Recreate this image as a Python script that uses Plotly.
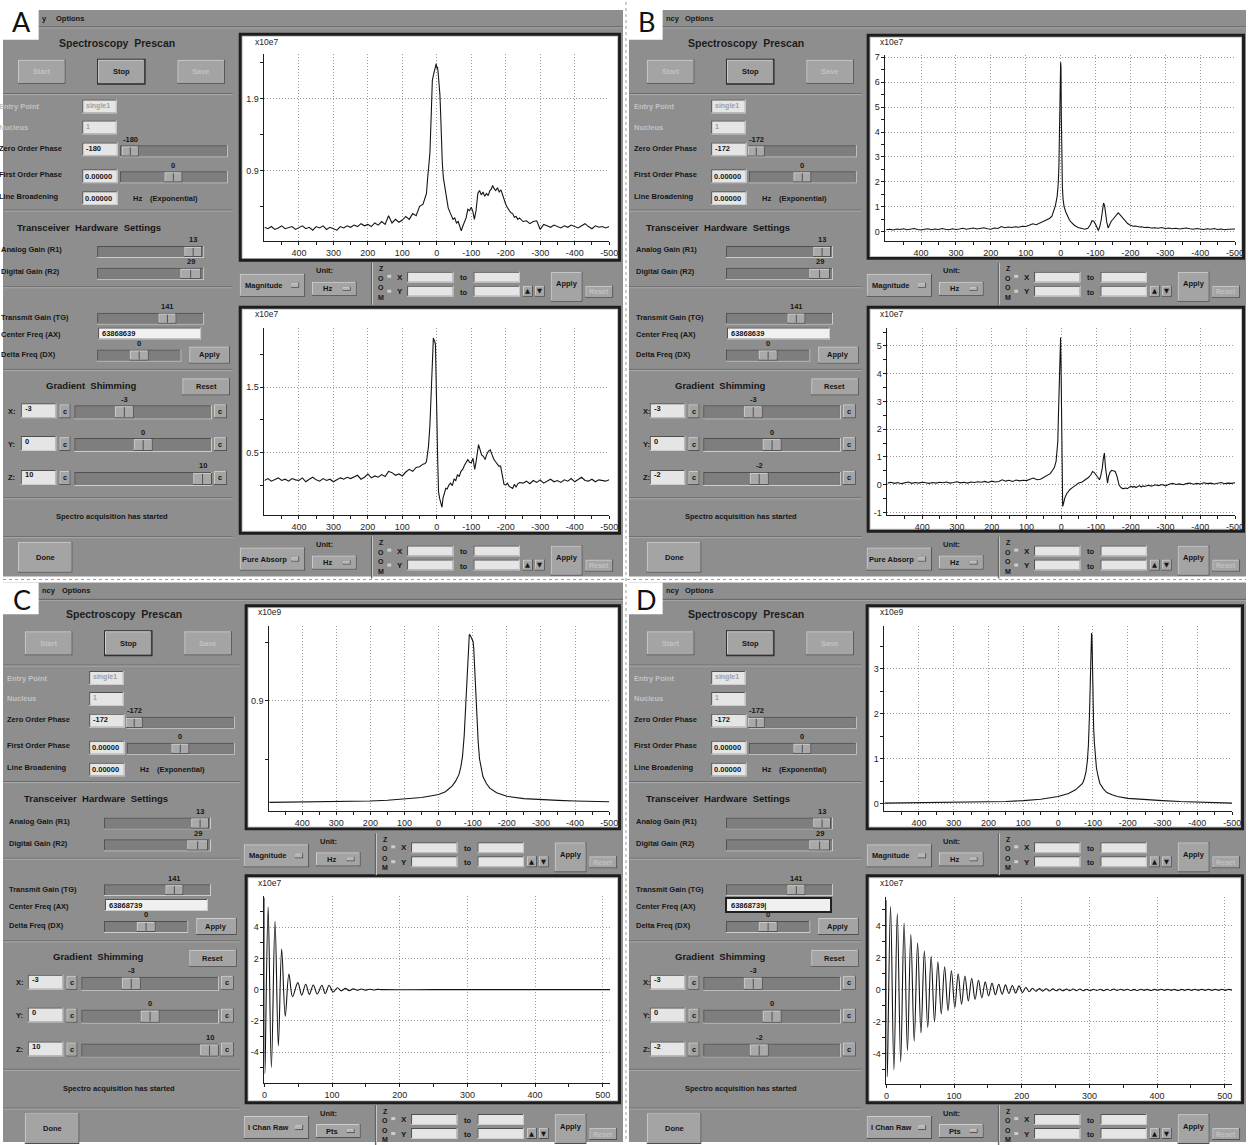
import plotly.graph_objects as go

W, H = 1255, 1145

# ============================ DATA ============================
# frequency sample grid (Hz) for the flat wings of the spectra
SPEC_LEFT_X = list(range(500, 30, -10))      # 500 ... 40
SPEC_RIGHT_X = list(range(-250, -510, -10))  # -250 ... -500

# ---- Panel A, Magnitude (x10e7)
a_mag_left = [0.11, 0.09, 0.12, 0.08, 0.10, 0.13, 0.09, 0.11, 0.12, 0.08,
              0.10, 0.13, 0.09, 0.11, 0.07, 0.12, 0.10, 0.13, 0.08, 0.11,
              0.09, 0.07, 0.12, 0.10, 0.13, 0.11, 0.14, 0.12, 0.16, 0.13,
              0.15, 0.12, 0.17, 0.14, 0.19, 0.15, 0.27, 0.17, 0.22, 0.18,
              0.21, 0.26, 0.22, 0.30, 0.27, 0.40, 0.43]
a_mag_peak_x = [34, 30, 27, 24, 20, 16, 13, 10, 6, 2,
                0, -2, -4, -7, -9, -11, -13, -16, -19, -23,
                -28, -33, -38, -43, -47, -52, -57, -62, -66, -71,
                -75, -80, -85, -90, -95, -100, -105, -109, -114, -119,
                -124, -129, -134, -139, -144, -149, -154, -158, -162, -166,
                -171, -176, -181, -186, -191, -196, -200, -205, -210, -215,
                -220, -225, -230, -235, -240]
a_mag_peak_y = [0.52, 0.58, 0.77, 0.95, 1.14, 1.70, 2.15, 2.22, 2.30, 2.38,
                2.32, 2.34, 2.25, 2.10, 1.95, 1.70, 1.37, 1.00, 0.80, 0.66,
                0.50, 0.38, 0.32, 0.26, 0.22, 0.24, 0.17, 0.19, 0.12, 0.06,
                0.12, 0.17, 0.24, 0.36, 0.34, 0.39, 0.32, 0.22, 0.35, 0.58,
                0.62, 0.56, 0.60, 0.54, 0.58, 0.55, 0.62, 0.64, 0.69, 0.65,
                0.62, 0.66, 0.60, 0.63, 0.55, 0.48, 0.43, 0.38, 0.35, 0.31,
                0.30, 0.25, 0.26, 0.22, 0.24]
a_mag_right = [0.19, 0.20, 0.16, 0.19, 0.20, 0.08, 0.15, 0.13, 0.11, 0.14,
               0.12, 0.10, 0.13, 0.11, 0.14, 0.12, 0.10, 0.13, 0.16, 0.12,
               0.09, 0.13, 0.11, 0.12, 0.10, 0.12]

# ---- Panel A, Pure Absorption (x10e7)
a_abs_left = [0.07, 0.10, 0.06, 0.09, 0.11, 0.07, 0.09, 0.06, 0.10, 0.08,
              0.07, 0.11, 0.05, 0.09, 0.12, 0.08, 0.06, 0.10, 0.07, 0.09,
              0.05, 0.08, 0.11, 0.09, 0.12, 0.10, 0.13, 0.15, 0.09, 0.12,
              0.17, 0.11, 0.14, 0.12, 0.16, 0.13, 0.21, 0.19, 0.15, 0.17,
              0.14, 0.20, 0.24, 0.21, 0.27, 0.28, 0.32]
a_abs_peak_x = [34, 30, 27, 24, 20, 17, 14, 12, 10, 8,
                6, 4, 2, 0, -2, -5, -8, -12, -15, -18,
                -22, -26, -30, -35, -40, -45, -50, -55, -60, -65,
                -70, -75, -80, -85, -90, -95, -100, -105, -110, -114,
                -118, -121, -125, -130, -135, -140, -145, -150, -155, -160,
                -165, -170, -175, -180, -185, -188, -191, -195, -200, -205,
                -210, -215, -220, -225, -230, -235, -240]
a_abs_peak_y = [0.33, 0.36, 0.46, 0.60, 0.92, 1.40, 1.84, 2.10, 2.25, 2.22,
                2.20, 2.15, 1.80, 1.08, 0.50, -0.10, -0.20, -0.30, -0.34, -0.20,
                -0.10, -0.05, -0.06, 0.00, 0.03, -0.01, 0.09, 0.07, 0.16, 0.13,
                0.21, 0.24, 0.30, 0.34, 0.39, 0.35, 0.34, 0.41, 0.24, 0.36,
                0.50, 0.62, 0.55, 0.46, 0.44, 0.39, 0.47, 0.52, 0.54, 0.46,
                0.40, 0.36, 0.33, 0.29, 0.29, 0.20, 0.07, 0.01, 0.00, 0.03,
                -0.02, -0.04, -0.05, 0.01, -0.03, 0.02, 0.04]
a_abs_right = [0.03, 0.06, 0.02, 0.07, 0.04, 0.08, 0.03, 0.06, 0.09, 0.05,
               0.07, 0.04, 0.08, 0.06, 0.10, 0.05, 0.09, 0.12, 0.07, 0.06,
               0.09, 0.05, 0.08, 0.07, 0.06, 0.08]

# ---- Panel B, Magnitude (x10e7)
b_mag_left = [0.08, 0.10, 0.07, 0.11, 0.09, 0.12, 0.08, 0.10, 0.13, 0.09,
              0.07, 0.10, 0.12, 0.08, 0.11, 0.09, 0.13, 0.10, 0.08, 0.12,
              0.09, 0.11, 0.14, 0.10, 0.12, 0.15, 0.11, 0.13, 0.16, 0.12,
              0.10, 0.15, 0.13, 0.21, 0.16, 0.19, 0.17, 0.20, 0.18, 0.22,
              0.21, 0.26, 0.32, 0.28, 0.35, 0.42, 0.48]
b_mag_peak_x = [32, 25, 20, 15, 10, 7, 5, 3, 2, 1,
                0, -1, -2, -3, -5, -7, -10, -15, -20, -25,
                -30, -40, -50, -60, -70, -78, -85, -90, -95, -100,
                -104, -108, -112, -116, -120, -123, -126, -129, -132, -136,
                -140, -145, -150, -155, -160, -165, -168, -172, -177, -182,
                -187, -192, -197, -202, -208, -214, -220, -226, -232, -240]
b_mag_peak_y = [0.53, 0.62, 0.80, 1.05, 1.42, 1.90, 2.60, 3.80, 4.90, 5.80,
                6.80, 6.60, 4.60, 3.00, 1.80, 1.30, 1.00, 0.78, 0.62, 0.48,
                0.38, 0.25, 0.17, 0.12, 0.10, 0.14, 0.28, 0.44, 0.42, 0.30,
                0.15, 0.05, 0.20, 0.45, 0.85, 1.15, 1.05, 0.70, 0.40, 0.15,
                0.30, 0.42, 0.50, 0.58, 0.66, 0.76, 0.72, 0.65, 0.56, 0.50,
                0.40, 0.33, 0.28, 0.25, 0.22, 0.23, 0.20, 0.19, 0.20, 0.17]
b_mag_right = [0.18, 0.15, 0.16, 0.14, 0.17, 0.13, 0.15, 0.12, 0.14, 0.11,
               0.13, 0.15, 0.12, 0.10, 0.13, 0.11, 0.09, 0.12, 0.10, 0.13,
               0.09, 0.11, 0.08, 0.10, 0.09, 0.11]

# ---- Panel B, Pure Absorption (x10e7)
b_abs_left = [0.06, 0.09, 0.05, 0.08, 0.04, 0.07, 0.10, 0.05, 0.08, 0.06,
              0.09, 0.07, 0.05, 0.08, 0.06, 0.09, 0.07, 0.10, 0.06, 0.08,
              0.11, 0.07, 0.09, 0.06, 0.10, 0.08, 0.11, 0.09, 0.12, 0.08,
              0.13, 0.10, 0.12, 0.18, 0.13, 0.16, 0.12, 0.17, 0.14, 0.16,
              0.15, 0.20, 0.24, 0.18, 0.20, 0.27, 0.35]
b_abs_peak_x = [32, 25, 20, 15, 12, 10, 8, 7, 5, 4,
                3, 2, 1, 0, -1, -2, -4, -6, -10, -15,
                -20, -25, -30, -40, -50, -60, -70, -78, -85, -90,
                -95, -100, -105, -110, -114, -118, -121, -124, -127, -130,
                -133, -136, -140, -145, -150, -155, -160, -163, -166, -170,
                -175, -180, -185, -190, -195, -200, -205, -210, -215, -220,
                -225, -230, -235, -240]
b_abs_peak_y = [0.40, 0.52, 0.62, 0.84, 1.20, 1.56, 2.60, 3.10, 3.40, 4.30,
                4.90, 5.30, 4.60, 3.10, 1.20, 0.00, -0.78, -0.70, -0.48, -0.33,
                -0.24, -0.17, -0.12, -0.03, 0.06, 0.10, 0.18, 0.26, 0.36, 0.48,
                0.44, 0.36, 0.25, 0.18, 0.35, 0.60, 0.95, 1.14, 0.65, 0.20,
                0.06, 0.30, 0.45, 0.52, 0.50, 0.48, 0.32, 0.12, 0.00, -0.08,
                -0.13, -0.14, -0.12, -0.14, -0.10, -0.05, -0.09, -0.06, -0.10, -0.07,
                -0.03, -0.08, -0.04, -0.06]
b_abs_right = [-0.02, -0.05, 0.00, -0.03, 0.01, -0.04, 0.02, 0.05, 0.01, 0.03,
               0.00, 0.04, 0.06, 0.02, 0.05, 0.03, 0.07, 0.04, 0.06, 0.03,
               0.05, 0.08, 0.04, 0.06, 0.05, 0.07]

# ---- Panel C, Magnitude (x10e9)
c_mag_x = [500, 450, 400, 350, 300, 250, 200, 150, 100, 50,
           20, 0, -20, -40, -50, -60, -65, -70, -75, -80,
           -83, -86, -88, -90, -93, -96, -99, -101, -103, -105,
           -107, -109, -111, -113, -116, -120, -125, -130, -140, -150,
           -170, -200, -250, -300, -350, -400, -450, -500]
c_mag_y = [0.028, 0.029, 0.030, 0.031, 0.033, 0.036, 0.040, 0.046, 0.055, 0.070,
           0.085, 0.096, 0.12, 0.17, 0.21, 0.27, 0.33, 0.42, 0.60, 0.88,
           1.12, 1.34, 1.44, 1.47, 1.46, 1.44, 1.42, 1.41, 1.35, 1.22,
           1.14, 1.08, 0.95, 0.77, 0.55, 0.40, 0.31, 0.25, 0.19, 0.15,
           0.11, 0.08, 0.06, 0.05, 0.045, 0.040, 0.036, 0.033]

# ---- Panel D, Magnitude (x10e9)
d_mag_x = [500, 450, 400, 350, 300, 250, 200, 150, 100, 50,
           0, -30, -50, -60, -70, -75, -80, -84, -87, -90,
           -92, -94, -95, -96, -97, -98, -99, -100, -102, -104,
           -107, -110, -115, -120, -130, -140, -155, -170, -200, -250,
           -300, -350, -400, -450, -500]
d_mag_y = [0.015, 0.018, 0.020, 0.022, 0.025, 0.030, 0.040, 0.050, 0.070, 0.10,
           0.16, 0.23, 0.31, 0.37, 0.45, 0.55, 0.71, 0.95, 1.30, 1.96,
           2.60, 3.20, 3.60, 3.79, 3.75, 3.40, 2.80, 2.33, 1.70, 1.37,
           1.00, 0.80, 0.60, 0.45, 0.33, 0.25, 0.20, 0.16, 0.12, 0.09,
           0.07, 0.05, 0.035, 0.025, 0.015]

# ---- Panel C, I channel raw FID (x10e7) : successive extrema
c_fid_x = [0, 0.5, 5.4, 10.2, 15.6, 20.5, 25.4, 30.7, 36.1, 41.5,
           49.3, 55.1, 61.0, 66.3, 72.2, 78.0, 84.9, 89.8, 95.6, 101.5,
           107.8, 113.7, 119.5, 125.4, 131.2, 137.0, 143.0, 149.0, 155.0, 161.0,
           167.0, 175.0, 250.0, 350.0, 450.0, 511.0]
c_fid_y = [5.9, -5.4, 5.3, -5.0, 4.4, -3.6, 2.6, -1.7, 1.0, -0.45,
           0.45, -0.35, 0.35, -0.30, 0.30, -0.28, 0.28, -0.25, 0.28, -0.15,
           0.12, -0.08, 0.08, -0.06, 0.05, -0.04, 0.04, -0.03, 0.03, -0.02,
           0.02, 0.0, 0.0, 0.0, 0.0, 0.0]

# ---- Panel D, I channel raw FID (x10e7) : successive extrema (pts 0, 1, 6, 11, ... 511)
d_fid_y = [5.60, -5.44, 5.20, -5.00, 4.77, -4.50, 4.17, -3.80, 3.48, -3.20,
           2.94, -2.70, 2.44, -2.35, 2.10, -2.00, 1.75, -1.50, 1.44, -1.30,
           1.19, -1.10, 1.00, -0.90, 0.87, -0.70, 0.73, -0.60, 0.60, -0.50,
           0.50, -0.38, 0.42, -0.30, 0.35, -0.27, 0.31, -0.23, 0.27, -0.20,
           0.25, -0.17, 0.15, -0.12, 0.10, -0.09, 0.08, -0.08, 0.07, -0.07,
           0.06, -0.06, 0.05, -0.06, 0.05, -0.05, 0.05, -0.05, 0.05, -0.05,
           0.04, -0.05, 0.04, -0.04, 0.04, -0.05, 0.04, -0.04, 0.05, -0.04,
           0.04, -0.03, 0.04, -0.04, 0.03, -0.04, 0.04, -0.03, 0.03, -0.04,
           0.03, -0.03, 0.04, -0.03, 0.03, -0.03, 0.03, -0.04, 0.03, -0.03,
           0.03, -0.03, 0.03, -0.03, 0.03, -0.03, 0.03, -0.03, 0.03, -0.03,
           0.03, -0.03, 0.03, -0.03]
d_fid_x = [0, 1] + [6 + 5 * k for k in range(len(d_fid_y) - 2)]

HZ_TICKS = [400, 300, 200, 100, 0, -100, -200, -300, -400, -500]
HZ_MINOR = [450, 350, 250, 150, 50, -50, -150, -250, -350, -450]
PTS_TICKS = [0, 100, 200, 300, 400, 500]
PTS_MINOR = [50, 150, 250, 350, 450]

# ============================ STYLE / HELPERS ============================
BG = '#8e8e8e'
BTN = '#a4a4a4'
HI = '#cdcdcd'
LO = '#505050'
FIELD = '#e5e5e5'
TROUGH = '#7e7e7e'
TXT = '#161616'
DIM = '#c2c2c2'
GF = 'Liberation Sans'

shapes, annots = [], []


def fx(x):
    return x / W


def fy(y):
    return 1 - y / H


def rect(x0, y0, x1, y1, fill):
    shapes.append(dict(type='rect', xref='paper', yref='paper', x0=fx(x0), x1=fx(x1),
                       y0=fy(y1), y1=fy(y0), fillcolor=fill, line=dict(width=0), layer='below'))


def line(x0, y0, x1, y1, color, lw=1, dash='solid'):
    shapes.append(dict(type='line', xref='paper', yref='paper', x0=fx(x0), x1=fx(x1),
                       y0=fy(y0), y1=fy(y1), line=dict(color=color, width=lw, dash=dash), layer='below'))


def text(x, y, s, size=8, color=TXT, anchor='left', family=GF, bold=True):
    if bold:
        s = '<b>' + s + '</b>'
    annots.append(dict(xref='paper', yref='paper', x=fx(x), y=fy(y), text=s, showarrow=False,
                       xanchor=anchor, yanchor='middle', borderpad=0,
                       font=dict(size=size, color=color, family=family)))


def raised(x0, y0, x1, y1, fill=BTN):
    rect(x0, y0, x1, y1, LO)
    rect(x0, y0, x1 - 1, y1 - 1, HI)
    rect(x0 + 1, y0 + 1, x1 - 1, y1 - 1, fill)


def sunken(x0, y0, x1, y1, fill=FIELD):
    rect(x0, y0, x1, y1, HI)
    rect(x0, y0, x1 - 1, y1 - 1, LO)
    rect(x0 + 1, y0 + 1, x1 - 1, y1 - 1, fill)


def slider(x0, y0, x1, y1, t0, t1, label):
    sunken(x0, y0, x1, y1, TROUGH)
    raised(t0, y0 + 1, t1, y1 - 1, '#a9a9a9')
    line((t0 + t1) / 2, y0 + 2, (t0 + t1) / 2, y1 - 2, LO)
    text((t0 + t1) / 2, y0 - 6, label, 7.5, TXT, 'center')


def sep(x0, x1, y):
    line(x0, y, x1, y, '#6a6a6a')
    line(x0, y + 1, x1, y + 1, '#ababab')


def left_panel(ox, oy, px0, lx, zop, zop_x, zval, z_x, freq, focused):
    X = lambda v: ox + v
    Y = lambda v: oy + v
    text(X(115), Y(41), 'Spectroscopy  Prescan', 10.5, '#1c1c1c', 'center')
    raised(X(15), Y(58), X(63), Y(82)); text(X(39), Y(70), 'Start', 7.5, DIM, 'center')
    rect(X(95), Y(57), X(144), Y(83), '#2a2a2a'); raised(X(96), Y(58), X(143), Y(82))
    text(X(119.5), Y(70), 'Stop', 7.5, TXT, 'center')
    raised(X(176), Y(58), X(224), Y(82)); text(X(200), Y(70), 'Save', 7.5, DIM, 'center')
    sep(px0, X(232), Y(92))
    text(lx, Y(105), 'Entry Point', 7.5, DIM)
    sunken(X(80), Y(98), X(115), Y(112)); text(X(83), Y(104), 'single1', 7, '#a0a0a0')
    text(lx, Y(126), 'Nucleus', 7.5, DIM)
    sunken(X(80), Y(119), X(115), Y(133)); text(X(83), Y(125), '1', 7, '#a0a0a0')
    text(lx, Y(147), 'Zero Order Phase', 7.5)
    sunken(X(80), Y(141), X(116), Y(155)); text(X(83), Y(147), zop, 7.5)
    slider(X(118), Y(144), X(227), Y(156), X(zop_x), X(zop_x + 17), zop)
    text(lx, Y(173), 'First Order Phase', 7.5)
    sunken(X(80), Y(168), X(116), Y(182)); text(X(82), Y(175), '0.00000', 7.5)
    slider(X(118), Y(170), X(227), Y(182), X(163), X(181), '0')
    text(lx, Y(195), 'Line Broadening', 7.5)
    sunken(X(80), Y(190), X(116), Y(204)); text(X(82), Y(197), '0.00000', 7.5)
    text(X(130), Y(197), 'Hz', 7.5); text(X(147), Y(197), '(Exponential)', 7.5)
    sep(px0, X(232), Y(209))
    text(X(87), Y(226), 'Transceiver  Hardware  Settings', 9.5, TXT, 'center')
    text(lx + 2, Y(249), 'Analog Gain (R1)', 7.5)
    slider(X(95), Y(245), X(203), Y(257), X(183), X(201), '13')
    text(lx + 2, Y(271), 'Digital Gain (R2)', 7.5)
    slider(X(95), Y(267), X(203), Y(279), X(179), X(200), '29')
    sep(px0, X(232), Y(286))
    text(lx + 2, Y(317), 'Transmit Gain (TG)', 7.5)
    slider(X(95), Y(312), X(203), Y(324), X(157), X(175), '141')
    text(lx + 2, Y(334), 'Center Freq (AX)', 7.5)
    if focused:
        rect(X(94), Y(325), X(202), Y(341), '#202020')
        rect(X(96), Y(327), X(200), Y(339), '#f0f0f0')
        text(X(99), Y(333), freq + '|', 7.5)
    else:
        sunken(X(96), Y(327), X(200), Y(339), '#f0f0f0')
        text(X(99), Y(333), freq, 7.5)
    text(lx + 2, Y(354), 'Delta Freq (DX)', 7.5)
    slider(X(95), Y(349), X(180), Y(361), X(128), X(147), '0')
    raised(X(188), Y(346), X(229), Y(363)); text(X(208.5), Y(354.5), 'Apply', 7.5, TXT, 'center')
    sep(px0, X(232), Y(369))
    text(X(89), Y(385), 'Gradient  Shimming', 9.5, TXT, 'center')
    raised(X(181), Y(378), X(229), Y(395)); text(X(205), Y(386.5), 'Reset', 7.5, TXT, 'center')
    rows = [('X:', 411, '-3', 113, '-3'), ('Y:', 444, '0', 132, '0'), ('Z:', 478, zval, z_x, zval)]
    for lab, yc, val, tx, tl in rows:
        text(lx + 9, Y(yc), lab, 7.5)
        sunken(X(18), Y(yc - 8), X(54), Y(yc + 7)); text(X(21), Y(yc - 3), val, 7.5)
        raised(X(57), Y(yc - 7), X(68), Y(yc + 7)); text(X(62.5), Y(yc), 'c', 7.5, TXT, 'center')
        slider(X(72), Y(yc - 6), X(211), Y(yc + 8), X(tx), X(tx + 19), tl)
        raised(X(213), Y(yc - 7), X(226), Y(yc + 7)); text(X(219.5), Y(yc), 'c', 7.5, TXT, 'center')
    sep(px0, X(232), Y(498))
    text(X(110), Y(517), 'Spectro acquisition has started', 7.5, TXT, 'center')
    sep(px0, X(232), Y(537))
    raised(X(15), Y(542), X(70), Y(573)); text(X(42.5), Y(557.5), 'Done', 7.5, TXT, 'center')


def toolbar(ox, oy, mode, unit):
    raised(ox + 4, oy + 11, ox + 70, oy + 34)
    text(ox + 29, oy + 22.5, mode, 7.5, TXT, 'center')
    raised(ox + 56, oy + 20, ox + 64, oy + 25, '#b4b4b4')
    text(ox + 90, oy + 8, 'Unit:', 7.5, TXT, 'center')
    raised(ox + 77, oy + 19, ox + 122, oy + 33)
    text(ox + 93, oy + 26, unit, 7.5, TXT, 'center')
    raised(ox + 108, oy + 24, ox + 116, oy + 28, '#b4b4b4')
    line(ox + 137, oy, ox + 137, oy + 42, LO)
    line(ox + 138, oy, ox + 138, oy + 42, HI)
    for k, ch in enumerate('ZOOM'):
        text(ox + 147, oy + 6 + k * 9.5, ch, 7, TXT, 'center')
    rect(ox + 153, oy + 12, ox + 157, oy + 15, HI)
    rect(ox + 153, oy + 27, ox + 157, oy + 30, HI)
    text(ox + 166, oy + 14.5, 'X', 8, TXT, 'center')
    text(ox + 166, oy + 29, 'Y', 8, TXT, 'center')
    sunken(ox + 173, oy + 9, ox + 220, oy + 20)
    sunken(ox + 240, oy + 9, ox + 287, oy + 20)
    sunken(ox + 173, oy + 23, ox + 220, oy + 34)
    sunken(ox + 240, oy + 23, ox + 287, oy + 34)
    text(ox + 230, oy + 15, 'to', 7.5, TXT, 'center')
    text(ox + 230, oy + 29.5, 'to', 7.5, TXT, 'center')
    raised(ox + 290, oy + 23, ox + 300, oy + 34)
    text(ox + 295, oy + 28.5, '▲', 6.5, TXT, 'center', 'DejaVu Sans', bold=False)
    raised(ox + 302, oy + 23, ox + 312, oy + 34)
    text(ox + 307, oy + 28.5, '▼', 6.5, TXT, 'center', 'DejaVu Sans', bold=False)
    raised(ox + 318, oy + 9, ox + 350, oy + 39)
    text(ox + 334, oy + 21, 'Apply', 7.5, TXT, 'center')
    raised(ox + 353, oy + 23, ox + 381, oy + 35)
    text(ox + 367, oy + 29, 'Reset', 7, DIM, 'center')


def frame(x0, y0, x1, y1):
    rect(x0, y0, x1, y1, '#1d1d1d')
    rect(x0 + 3, y0 + 3, x1 - 3, y1 - 3, '#c4c4c4')
    rect(x0 + 4, y0 + 4, x1 - 4, y1 - 4, 'white')


# ============================ LAYOUT BACKGROUND ============================
PANELS = [
    dict(box=(0, 8, 626, 577), menu=(8, 25), letter='A', lbox=(0, 0, 36, 38),
         off=(0, 0), lx=-5, zop='-180', zop_x=120, z='10', z_x=192, freq='63868639', focus=False,
         menu_txt=[(38, 'y'), (53, 'Options')]),
    dict(box=(632, 8, 1255, 577), menu=(8, 25), letter='B', lbox=(632, 0, 666, 38),
         off=(635, 0), lx=636, zop='-172', zop_x=117, z='-2', z_x=119, freq='63868639', focus=False,
         menu_txt=[(668, 'ncy'), (688, 'Options')]),
    dict(box=(0, 583, 626, 1145), menu=(583, 600), letter='C', lbox=(0, 583, 36, 615),
         off=(7, 574), lx=3, zop='-172', zop_x=117, z='10', z_x=192, freq='63868739', focus=False,
         menu_txt=[(38, 'ncy'), (59, 'Options')]),
    dict(box=(632, 583, 1255, 1145), menu=(583, 600), letter='D', lbox=(632, 583, 666, 615),
         off=(635, 574), lx=636, zop='-172', zop_x=117, z='-2', z_x=119, freq='63868739', focus=True,
         menu_txt=[(668, 'ncy'), (688, 'Options')]),
]

for p in PANELS:
    x0, y0, x1, y1 = p['box']
    rect(x0, y0, x1, y1, BG)
    m0, m1 = p['menu']
    line(x0, m1, x1, m1, '#5c5c5c')
    line(x0, m1 + 1, x1, m1 + 1, '#a8a8a8')
    for tx, s in p['menu_txt']:
        text(tx, (m0 + m1) / 2, s, 7.5)
    ox, oy = p['off']
    left_panel(ox, oy, x0, p['lx'], p['zop'], p['zop_x'], p['z'], p['z_x'], p['freq'], p['focus'])

# separators between the four screenshots
line(629, 0, 629, H, '#9a9a9a', 1, 'dot')
line(0, 580, W, 580, '#9a9a9a', 1, 'dot')

# plot frames
FRAMES = [(238, 31, 624, 261), (238, 305, 624, 535), (872, 32, 1254, 259), (872, 305, 1254, 533),
          (244, 605, 624, 832), (244, 876, 624, 1107), (871, 605, 1253, 832), (871, 876, 1253, 1107)]
for f in FRAMES:
    frame(*f)

TOOLBARS = [(235, 262, 'Magnitude', 'Hz'), (235, 537, 'Pure Absorp', 'Hz'),
            (868, 262, 'Magnitude', 'Hz'), (868, 537, 'Pure Absorp', 'Hz'),
            (239, 835, 'Magnitude', 'Hz'), (239, 1108, 'I Chan Raw', 'Pts'),
            (868, 835, 'Magnitude', 'Hz'), (868, 1108, 'I Chan Raw', 'Pts')]
for t in TOOLBARS:
    toolbar(*t)

# letter boxes
for p in PANELS:
    lb = p['lbox']
    rect(*lb, 'white')
    text((lb[0] + lb[2]) / 2 + 1, (lb[1] + lb[3]) / 2 + 1, p['letter'], 27, '#111111', 'center', 'Lato', bold=False)

# ============================ PLOTS ============================
def join(left, px_, py_, right):
    return SPEC_LEFT_X + px_ + SPEC_RIGHT_X, left + py_ + right


SERIES = [
    join(a_mag_left, a_mag_peak_x, a_mag_peak_y, a_mag_right),
    join(a_abs_left, a_abs_peak_x, a_abs_peak_y, a_abs_right),
    join(b_mag_left, b_mag_peak_x, b_mag_peak_y, b_mag_right),
    join(b_abs_left, b_abs_peak_x, b_abs_peak_y, b_abs_right),
    (c_mag_x, c_mag_y),
    (c_fid_x, c_fid_y),
    (d_mag_x, d_mag_y),
    (d_fid_x, d_fid_y),
]

PLOTS = [
    dict(box=(264, 612, 52, 240), xr=[500, -500], yr=[-0.08, 2.52], yt=[0.9, 1.9], ym=[0.4, 1.4, 2.4], kind='hz', exp='x10e7', lab=(253, 40)),
    dict(box=(264, 612, 327, 515), xr=[500, -500], yr=[-0.454, 2.41], yt=[0.5, 1.5], ym=[0, 1, 2], kind='hz', exp='x10e7', lab=(253, 313)),
    dict(box=(891, 1244, 53, 240), xr=[502, -500], yr=[-0.37, 7.1], yt=[0, 1, 2, 3, 4, 5, 6, 7], ym=[0.5, 1.5, 2.5, 3.5, 4.5, 5.5, 6.5], kind='hz', exp='x10e7', lab=(884, 40)),
    dict(box=(893, 1244, 327, 515), xr=[500, -500], yr=[-1.08, 5.66], yt=[-1, 0, 1, 2, 3, 4, 5], ym=[-0.5, 0.5, 1.5, 2.5, 3.5, 4.5, 5.5], kind='hz', exp='x10e7', lab=(884, 313)),
    dict(box=(269, 612, 627, 813), xr=[496, -500], yr=[-0.05, 1.54], yt=[0.9], ym=[0.4, 1.4], kind='hz', exp='x10e9', lab=(256, 613)),
    dict(box=(264, 613, 898, 1086), xr=[0, 511], yr=[-6, 6], yt=[-4, -2, 0, 2, 4], ym=[-5, -3, -1, 1, 3, 5], kind='pts', exp='x10e7', lab=(256, 885)),
    dict(box=(890, 1241, 627, 813), xr=[499, -500], yr=[-0.17, 3.94], yt=[0, 1, 2, 3], ym=[0.5, 1.5, 2.5, 3.5], kind='hz', exp='x10e9', lab=(884, 613)),
    dict(box=(892, 1241, 899, 1087), xr=[0, 511], yr=[-5.9, 5.8], yt=[-4, -2, 0, 2, 4], ym=[-5, -3, -1, 1, 3, 5], kind='pts', exp='x10e7', lab=(884, 885)),
]


def fmt(v):
    return str(int(v)) if float(v).is_integer() else str(v)


AX = '#1e1e1e'
GRID = '#9d9d9d'
TICKFONT = dict(size=9, color='#1e1e1e', family=GF)

layout = dict(width=W, height=H, margin=dict(l=0, r=0, t=0, b=0), paper_bgcolor='white',
              plot_bgcolor='rgba(0,0,0,0)', showlegend=False, hovermode=False)
traces = []
for i, (p, (sx, sy)) in enumerate(zip(PLOTS, SERIES)):
    n = '' if i == 0 else str(i + 1)
    l, r, t, b = p['box']
    if p['kind'] == 'hz':
        xt, xm = HZ_TICKS, HZ_MINOR
    else:
        xt, xm = PTS_TICKS, PTS_MINOR
    layout['xaxis' + n] = dict(domain=[fx(l), fx(r)], anchor='y' + n, range=p['xr'],
                               tickmode='array', tickvals=xt, ticktext=[fmt(v) for v in xt],
                               showgrid=True, gridcolor=GRID, griddash='1px,2px', gridwidth=1,
                               showline=True, linecolor=AX, linewidth=1, zeroline=False,
                               ticks='outside', ticklen=3, tickcolor=AX, tickfont=TICKFONT,
                               minor=dict(tickmode='array', tickvals=xm, ticks='outside', ticklen=3,
                                          tickcolor=AX, showgrid=False),
                               fixedrange=True)
    layout['yaxis' + n] = dict(domain=[fy(b), fy(t)], anchor='x' + n, range=p['yr'],
                               tickmode='array', tickvals=p['yt'], ticktext=[fmt(v) for v in p['yt']],
                               showgrid=True, gridcolor=GRID, griddash='1px,2px', gridwidth=1,
                               showline=True, linecolor=AX, linewidth=1, zeroline=False,
                               ticks='outside', ticklen=3, tickcolor=AX, tickfont=TICKFONT,
                               minor=dict(tickmode='array', tickvals=p['ym'], ticks='outside', ticklen=3,
                                          tickcolor=AX, showgrid=False),
                               fixedrange=True)
    traces.append(go.Scatter(x=sx, y=sy, mode='lines', xaxis='x' + n, yaxis='y' + n,
                             line=dict(color='#141414', width=1.1,
                                       shape='spline' if p['kind'] == 'pts' else 'linear'),
                             hoverinfo='skip'))
    text(p['lab'][0], p['lab'][1], p['exp'], 8.5, '#1e1e1e', 'left', bold=False)

layout['shapes'] = shapes
layout['annotations'] = annots
fig = go.Figure(data=traces, layout=layout)
fig.write_html("out.html", config={'displayModeBar': False},
               post_script="document.body.style.margin='0';")
